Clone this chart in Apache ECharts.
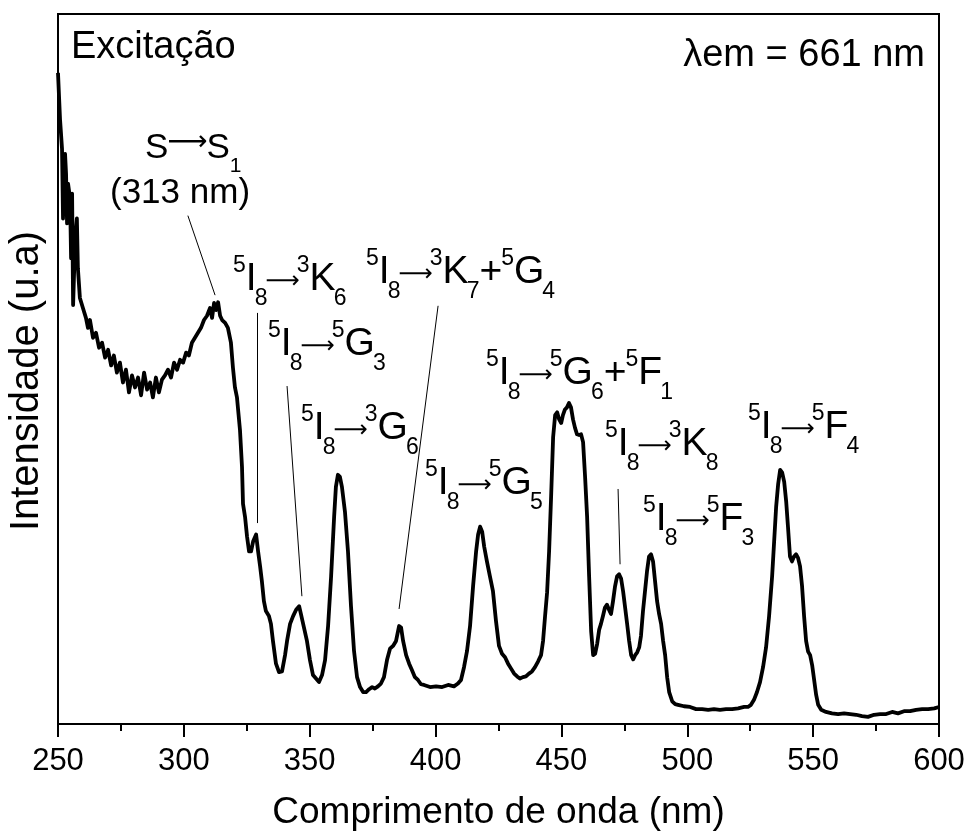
<!DOCTYPE html>
<html><head><meta charset="utf-8">
<script src="https://cdn.jsdelivr.net/npm/echarts@6/dist/echarts.min.js"></script>
<style>html,body{margin:0;padding:0;background:#fff}#c{width:970px;height:836px}</style>
</head><body><div id="c"></div>
<script>
// ---- data ----
const wavelengths = [
250.0,250.8,251.6,252.0,252.4,252.8,253.2,253.6,254.0,254.8,255.2,255.6,256.0,256.8,257.5,257.9,258.7,259.9,261.1,261.9,
262.7,263.9,265.1,266.3,267.5,268.7,269.9,271.1,272.2,273.4,274.6,275.8,277.0,278.2,279.4,280.6,281.8,283.0,284.2,285.4,
286.6,287.7,288.9,290.1,291.3,292.5,293.7,294.9,296.1,297.3,298.5,299.7,300.9,302.0,303.2,304.4,305.6,306.8,308.0,309.2,
310.4,311.2,312.0,312.8,313.6,314.4,315.2,316.4,317.5,318.7,319.5,320.3,321.1,322.3,323.1,323.5,324.3,325.1,325.9,326.7,
327.5,328.7,329.5,330.3,331.0,331.8,332.6,333.8,334.6,335.4,336.6,337.8,339.0,340.2,341.0,342.2,343.4,344.6,345.8,346.5,
347.7,348.9,350.1,351.3,352.5,353.7,354.9,356.1,357.3,358.5,359.7,360.4,361.2,362.0,362.8,364.0,365.2,366.4,367.6,368.8,
370.0,371.2,372.4,373.6,374.8,375.9,377.1,378.3,379.5,380.7,381.9,383.1,384.3,385.5,386.3,387.1,388.3,389.5,390.6,391.8,
393.0,394.2,395.4,397.8,400.2,402.6,405.0,407.3,408.9,410.1,411.3,412.5,413.7,414.9,416.1,416.9,417.7,418.5,419.3,420.4,
421.6,422.8,424.0,425.2,426.4,427.6,428.8,430.0,431.2,432.4,433.5,434.7,435.9,437.1,438.3,439.5,440.7,441.9,442.7,443.5,
444.3,445.1,445.9,446.7,447.5,448.3,449.1,449.9,450.6,451.4,452.2,453.0,453.8,454.6,455.4,456.2,457.0,457.8,458.6,459.4,
460.2,461.0,461.8,462.6,463.4,464.2,465.0,465.7,466.5,467.3,468.1,468.9,469.7,470.5,471.3,472.1,472.9,473.7,474.5,475.3,
476.1,476.9,477.7,478.5,479.3,480.1,480.9,481.6,482.4,483.2,484.0,484.8,485.6,486.4,487.2,488.0,488.8,489.6,490.4,491.2,
492.0,492.8,494.0,495.2,496.3,498.7,501.1,503.5,505.9,508.3,510.6,513.0,515.4,517.8,520.2,522.6,524.1,525.3,526.5,527.7,
528.9,530.1,531.3,532.5,533.7,534.5,535.3,536.1,536.9,537.7,538.5,539.3,540.0,540.8,541.6,542.4,543.2,544.0,544.8,545.6,
546.4,547.2,548.0,548.8,549.6,550.4,551.2,552.0,553.2,555.1,557.5,559.9,562.3,564.7,567.1,569.4,571.8,574.2,576.6,579.0,
581.4,583.7,586.1,588.5,590.9,593.3,595.7,598.1,600.0
];
const intensity = [
91.7,85.2,81.0,71.2,79.6,80.3,77.5,70.5,76.1,74.0,65.6,74.7,59.0,68.4,71.2,64.2,60.0,58.6,57.2,55.8,
56.9,54.4,55.1,53.0,53.7,51.6,52.7,50.5,51.9,49.5,50.9,48.1,49.9,46.7,49.1,47.4,48.8,46.3,49.5,47.1,
48.1,46.0,48.8,46.7,48.5,49.1,49.9,48.8,50.9,49.9,51.3,50.9,52.3,51.9,53.7,54.4,55.1,55.8,56.9,57.5,
58.6,57.2,59.3,58.3,59.4,57.5,56.9,56.5,55.8,53.7,50.2,47.4,46.0,41.4,36.2,31.0,29.2,26.4,24.3,24.3,
25.7,26.7,24.3,22.2,20.1,17.3,15.9,15.2,14.1,11.7,8.5,7.3,7.4,9.7,11.7,14.1,15.2,16.1,16.6,15.5,
13.6,11.7,9.0,6.9,6.4,5.9,6.9,9.0,13.8,20.8,29.2,33.4,35.1,34.8,33.4,29.9,24.3,16.6,10.3,6.6,
5.2,4.5,4.5,4.9,5.2,5.0,5.3,5.7,6.6,9.0,10.6,11.0,11.7,13.8,13.6,11.7,9.7,8.5,7.6,6.6,
6.2,5.6,5.5,5.2,5.3,5.2,5.5,5.3,5.7,6.2,8.0,10.3,13.8,19.4,24.3,26.7,27.8,27.1,25.0,22.9,
20.8,18.7,14.5,11.0,9.9,9.4,8.5,7.8,7.1,6.7,6.4,6.6,6.7,7.1,7.4,8.0,8.8,9.7,11.7,15.2,
18.5,24.3,32.0,40.4,43.5,43.9,42.9,42.4,43.5,44.3,44.6,45.2,44.6,42.9,41.7,40.8,40.7,40.8,39.7,34.8,
29.2,20.8,13.1,9.7,9.9,11.3,13.3,14.1,15.2,16.4,16.8,16.1,15.5,17.3,19.4,20.8,21.1,20.5,18.7,16.4,
14.1,11.7,9.7,9.1,9.7,10.1,10.8,12.4,15.9,18.7,21.5,23.6,23.9,22.9,20.1,17.3,15.5,14.1,11.7,9.7,
6.6,4.5,3.2,2.8,2.7,2.5,2.4,2.1,2.1,2.0,2.1,2.0,2.1,2.1,2.2,2.4,2.4,2.7,3.4,4.5,
5.9,8.0,10.8,15.2,20.8,25.7,30.6,33.8,35.8,35.4,34.1,31.3,27.8,23.6,22.9,23.6,23.9,23.4,22.2,19.4,
15.2,11.7,10.2,9.7,8.3,6.2,4.1,2.7,2.0,1.7,1.5,1.4,1.5,1.4,1.3,1.1,1.0,1.3,1.4,1.4,
1.7,1.5,1.8,1.8,2.0,2.1,2.1,2.2,2.4
];
const xMin = 250, xMax = 600, xStep = 50;
const yMin = 0, yMax = 100;
// leader lines for annotations, in data coordinates [[x1,y1],[x2,y2]]
const leaderLines = [
  [[301.6, 71.6], [312.4, 60.4]],
  [[329.1, 57.9], [329.1, 28.3]],
  [[341.0, 47.6], [346.9, 18.0]],
  [[401.0, 58.9], [385.5, 16.2]],
  [[472.5, 33.1], [473.3, 22.5]]
];
const labelTexts = {
  k6:  '{sup|5}{m|I}{sub|8}{ar|⟶}{sup|3}{m|K}{sub|6}',
  k7:  '{sup|5}{m|I}{sub|8}{ar|⟶}{sup|3}{m|K}{sub|7}{m|+}{sup|5}{m|G}{sub|4}',
  g3:  '{sup|5}{m|I}{sub|8}{ar|⟶}{sup|5}{m|G}{sub|3}',
  g6:  '{sup|5}{m|I}{sub|8}{ar|⟶}{sup|3}{m|G}{sub|6}',
  g5:  '{sup|5}{m|I}{sub|8}{ar|⟶}{sup|5}{m|G}{sub|5}',
  g6f1:'{sup|5}{m|I}{sub|8}{ar|⟶}{sup|5}{m|G}{sub|6}{m|+}{sup|5}{m|F}{sub|1}',
  k8:  '{sup|5}{m|I}{sub|8}{ar|⟶}{sup|3}{m|K}{sub|8}',
  f3:  '{sup|5}{m|I}{sub|8}{ar|⟶}{sup|5}{m|F}{sub|3}',
  f4:  '{sup|5}{m|I}{sub|8}{ar|⟶}{sup|5}{m|F}{sub|4}',
  ss1: '{s|S}{ars|⟶}{s|S}{ssub|1}',
  nm:  '(313 nm)'
};

// ---- chart ----
const FONT = "'Liberation Sans', Arial, sans-serif";
const rich = {
  m:   {fontSize: 39, fontFamily: FONT, color: '#000'},
  sup: {fontSize: 23, fontFamily: FONT, color: '#000', padding: [0, 0, 26, -1]},
  sub: {fontSize: 23, fontFamily: FONT, color: '#000', padding: [40, 0, 0, -2]},
  ar:  {fontSize: 24, fontFamily: "'DejaVu Sans'", color: '#000', padding: [6, -2, 0, -2]},
  s:   {fontSize: 35, fontFamily: FONT, color: '#000'},
  ars: {fontSize: 28, fontFamily: "'DejaVu Sans'", color: '#000', padding: [0, -1, 10, -1]},
  ssub:{fontSize: 21, fontFamily: FONT, color: '#000', padding: [36, 0, 0, 0]}
};
function lab(key, x, y) {
  return {type: 'text', x: x, y: y, z: 100, silent: true,
    style: {text: labelTexts[key], rich: rich, fill: '#000', font: '32px ' + FONT,
      align: 'left', verticalAlign: 'middle', textAlign: 'left', textVerticalAlign: 'middle'}};
}
const chart = echarts.init(document.getElementById('c'), null, {renderer: 'canvas'});
const seriesData = wavelengths.map((w, i) => [w, intensity[i]]);
chart.setOption({
  animation: false,
  backgroundColor: '#fff',
  grid: {left: 58, right: 31, top: 14, bottom: 107, show: true, borderColor: '#000', borderWidth: 2, backgroundColor: 'transparent'},
  xAxis: {
    type: 'value', min: xMin, max: xMax, interval: xStep,
    axisLine: {show: true, onZero: false, lineStyle: {color: '#000', width: 2}},
    axisTick: {show: true, inside: false, length: 13, lineStyle: {color: '#000', width: 2}},
    minorTick: {show: true, splitNumber: 2, length: 7, lineStyle: {color: '#000', width: 2}},
    splitLine: {show: false},
    axisLabel: {color: '#000', fontSize: 31, fontFamily: FONT, margin: 22},
    name: 'Comprimento de onda (nm)', nameLocation: 'middle', nameGap: 70,
    nameTextStyle: {color: '#000', fontSize: 37, fontFamily: FONT}
  },
  yAxis: {
    type: 'value', min: yMin, max: yMax,
    axisLine: {show: true, onZero: false, lineStyle: {color: '#000', width: 2}},
    axisTick: {show: false}, axisLabel: {show: false}, splitLine: {show: false}
  },
  series: [{
    type: 'line', data: seriesData, showSymbol: false, symbol: 'none',
    lineStyle: {color: '#000', width: 3.8, join: 'round'}, z: 5,
    markLine: {
      silent: true, symbol: ['none', 'none'], animation: false,
      lineStyle: {color: '#000', width: 1, type: 'solid'},
      label: {show: false},
      data: leaderLines.map(p => [{coord: p[0]}, {coord: p[1]}])
    }
  }],
  graphic: [
    {type: 'text', x: 71, y: 48, style: {text: 'Excitação', font: '38px ' + FONT, fill: '#000', align: 'left', verticalAlign: 'middle', textAlign: 'left', textVerticalAlign: 'middle'}},
    {type: 'text', x: 925, y: 56, style: {text: 'λem = 661 nm', font: '38px ' + FONT, fill: '#000', align: 'right', verticalAlign: 'middle', textAlign: 'right', textVerticalAlign: 'middle'}},
    {type: 'text', x: 27, y: 381, rotation: Math.PI / 2, style: {text: 'Intensidade (u.a)', font: '40px ' + FONT, fill: '#000', align: 'center', verticalAlign: 'middle', textAlign: 'center', textVerticalAlign: 'middle'}},
    lab('ss1', 145, 148),
    {type: 'text', x: 110, y: 193, style: {text: labelTexts.nm, font: '35px ' + FONT, fill: '#000', align: 'left', verticalAlign: 'middle', textAlign: 'left', textVerticalAlign: 'middle'}},
    lab('k6', 234, 279),
    lab('k7', 367, 272),
    lab('g3', 269, 344),
    lab('g6', 302, 428),
    lab('g5', 426, 483),
    lab('g6f1', 487, 373),
    lab('k8', 606, 444),
    lab('f3', 644, 519),
    lab('f4', 749, 427)
  ]
});
</script></body></html>
